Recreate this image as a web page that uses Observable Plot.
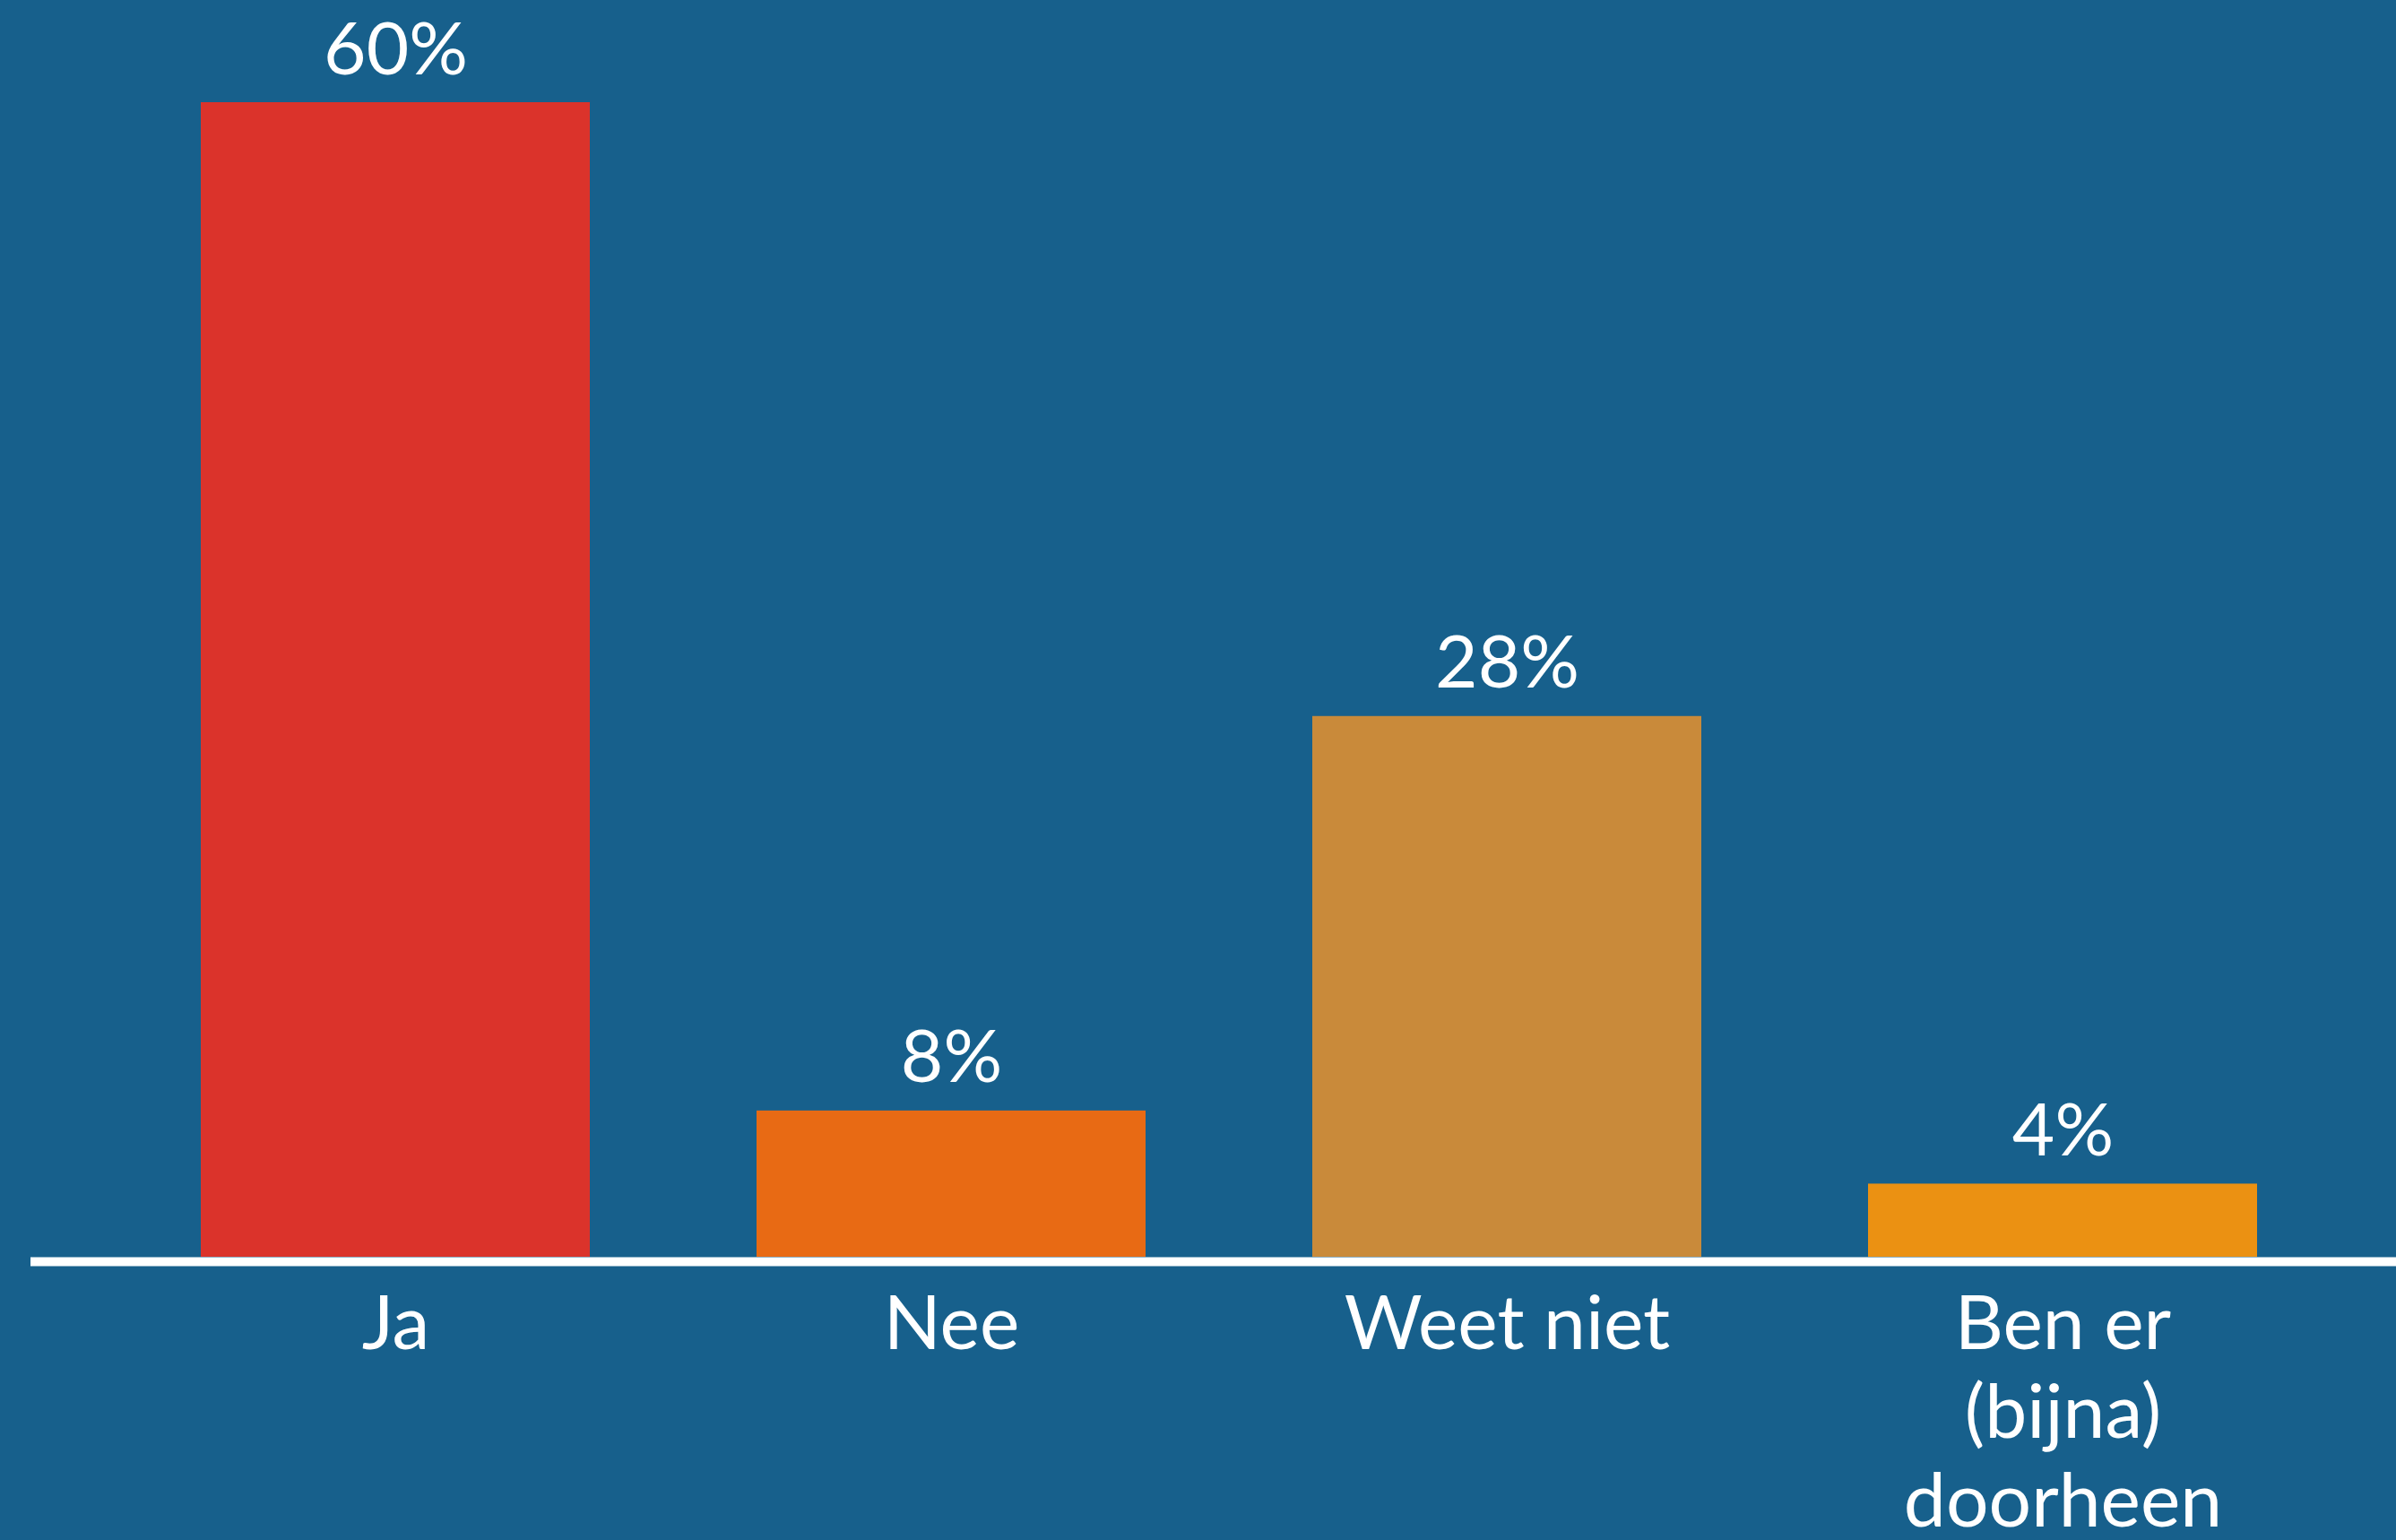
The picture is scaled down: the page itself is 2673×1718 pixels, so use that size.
<!DOCTYPE html>
<html>
<head>
<meta charset="utf-8">
<script src="https://cdn.jsdelivr.net/npm/d3@7"></script>
<script src="https://cdn.jsdelivr.net/npm/@observablehq/plot@0.6"></script>
<style>
  html, body { margin: 0; padding: 0; background: #17608C; overflow: hidden; }
  #chart svg { display: block; }
</style>
</head>
<body>
<div id="chart"></div>
<script>
const categories = ["Ja", "Nee", "Weet niet", "Ben er (bijna) doorheen"];
const tickLabels = ["Ja", "Nee", "Weet niet", "Ben er\n(bijna)\ndoorheen"];
const values = [60, 7.6, 28.1, 3.8];
const valueLabels = ["60%", "8%", "28%", "4%"];
const barColors = ["#DB332B", "#E86A14", "#C98A3A", "#EB9112"];

const data = categories.map((c, i) => ({category: c, label: tickLabels[i], value: values[i], valueLabel: valueLabels[i]}));

const chart = Plot.plot({
  width: 2673,
  height: 1718,
  marginTop: 114,
  marginBottom: 316,
  marginLeft: 131,
  marginRight: 62,
  style: {background: "#17608C", color: "white", fontFamily: "Lato, 'Open Sans', sans-serif"},
  x: {domain: categories, paddingInner: 0.3, paddingOuter: 0.15, axis: null},
  y: {domain: [0, 60], axis: null},
  color: {domain: categories, range: barColors},
  marks: [
    Plot.barY(data, {x: "category", y: "value", fill: "category"}),
    Plot.ruleY([0], {stroke: "white", strokeWidth: 10, dy: 5, insetLeft: -97, insetRight: -62}),
    Plot.text(data, {x: "category", y: "value", text: "valueLabel", lineAnchor: "bottom", dy: -32, fill: "white", fontSize: 82}),
    Plot.text(data, {x: "category", text: "label", frameAnchor: "bottom", lineAnchor: "top", dy: 32, lineHeight: 1.18, fill: "white", fontSize: 84})
  ]
});
document.getElementById("chart").appendChild(chart);
</script>
</body>
</html>
